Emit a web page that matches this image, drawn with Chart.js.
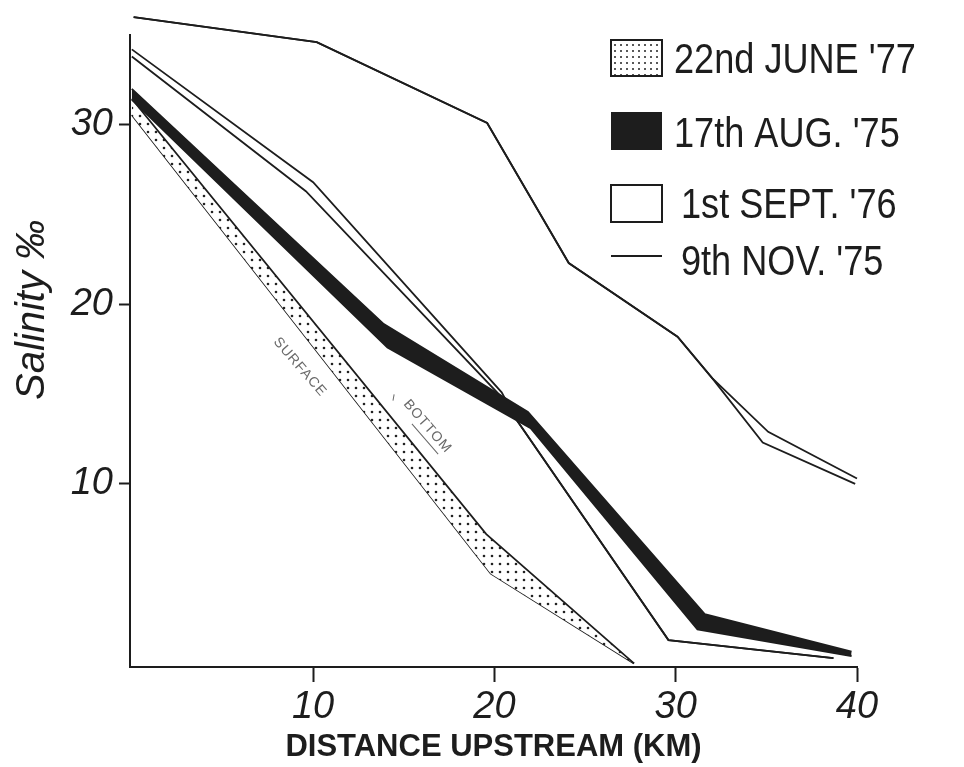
<!DOCTYPE html>
<html>
<head>
<meta charset="utf-8">
<title>Salinity upstream</title>
<script src="https://cdn.jsdelivr.net/npm/chart.js@4.4.1/dist/chart.umd.min.js"></script>
<style>
  html, body { margin: 0; padding: 0; background: #fff; }
  #wrap { width: 964px; height: 767px; }
</style>
</head>
<body>
<div id="wrap"><canvas id="salinity"></canvas></div>
<script>
// Salinity (‰) against distance upstream (km), bottom and surface water per survey
const xTicks = [10, 20, 30, 40];
const yTicks = [10, 20, 30];

const june77Bottom  = [[0, 31.45], [19.55, 7.2], [27.7, 0]];
const june77Surface = [[0, 30.55], [19.8, 5.0], [27.7, 0]];

const aug75Bottom  = [[0, 32.0], [13.9, 18.9], [21.85, 14.0], [31.6, 2.75], [39.7, 0.65]];
const aug75Surface = [[0, 31.4], [14.1, 17.6], [22.0, 13.1], [31.2, 1.9], [39.7, 0.4]];

const sept76Bottom  = [[0, 34.2], [10.0, 26.8], [20.4, 15.1], [21.2, 13.6], [29.6, 1.3], [38.7, 0.3]];
const sept76Surface = [[0, 33.8], [9.6, 26.3], [20.8, 14.4], [21.2, 13.6], [29.6, 1.3], [38.7, 0.3]];

const nov75Bottom  = [[0.1, 36.0], [10.2, 34.6], [19.6, 30.1], [24.1, 22.3], [30.1, 18.2], [32.0, 15.9], [35.1, 12.9], [40.0, 10.3]];
const nov75Surface = [[0.1, 36.0], [10.2, 34.6], [19.6, 30.1], [24.1, 22.3], [30.1, 18.2], [32.0, 15.9], [34.8, 12.3], [39.9, 10.0]];

const legendLabels = ["22nd JUNE '77", "17th AUG. '75", "1st SEPT. '76", "9th NOV. '75"];

const INK = '#1d1d1d';
const pts = arr => arr.map(([x, y]) => ({ x, y }));

// stippled fill for the June band
function dotPattern(size, r) {
  const c = document.createElement('canvas');
  c.width = size; c.height = size;
  const g = c.getContext('2d');
  g.fillStyle = '#fff';
  g.fillRect(0, 0, size, size);
  g.fillStyle = '#222';
  g.beginPath();
  g.arc(size / 2, size / 2, r, 0, Math.PI * 2);
  g.fill();
  return g.createPattern(c, 'repeat');
}
const dots = dotPattern(8, 1.3);
const keyDots = dotPattern(6, 1.0);

function line(data, extra) {
  return Object.assign({
    data: pts(data),
    borderColor: INK,
    borderWidth: 1.8,
    pointRadius: 0,
    tension: 0,
    fill: false,
    clip: false
  }, extra);
}

// legend keys in the upper right
const keyPlugin = {
  id: 'keys',
  afterDraw(chart) {
    const ctx = chart.ctx;
    ctx.save();
    ctx.lineWidth = 2;
    ctx.strokeStyle = INK;

    ctx.fillStyle = keyDots;
    ctx.fillRect(611, 40, 51, 36);
    ctx.strokeRect(611, 40, 51, 36);

    ctx.fillStyle = INK;
    ctx.fillRect(611, 112, 51, 38);

    ctx.strokeRect(611, 185, 51, 37);

    ctx.beginPath();
    ctx.moveTo(611, 256);
    ctx.lineTo(662, 256);
    ctx.stroke();

    ctx.fillStyle = INK;
    ctx.font = '42px "Liberation Sans", Arial, sans-serif';
    ctx.textBaseline = 'alphabetic';
    const rows = [[674, 73], [674, 147], [681, 218], [681, 275]];
    legendLabels.forEach((t, i) => {
      ctx.save();
      ctx.translate(rows[i][0], rows[i][1]);
      ctx.scale(0.86, 1);
      ctx.fillText(t, 0, 0);
      ctx.restore();
    });
    ctx.restore();
  }
};

// y title and the SURFACE / BOTTOM labels along the June band
const notePlugin = {
  id: 'notes',
  afterDraw(chart) {
    const ctx = chart.ctx;
    const xs = chart.scales.x, ys = chart.scales.y;
    ctx.save();

    ctx.fillStyle = INK;
    ctx.font = 'italic 40px "Liberation Sans", Arial, sans-serif';
    ctx.textAlign = 'center';
    ctx.textBaseline = 'middle';
    ctx.translate(33, 310);
    ctx.rotate(-Math.PI / 2);
    ctx.fillText('Salinity ‰', 0, 0);
    ctx.setTransform(1, 0, 0, 1, 0, 0);

    const ang = 49 * Math.PI / 180;
    ctx.font = '14px "Liberation Sans", Arial, sans-serif';
    ctx.letterSpacing = '1px';
    ctx.fillStyle = '#6a6a6a';
    ctx.strokeStyle = '#6a6a6a';
    ctx.lineWidth = 1;

    ctx.translate(xs.getPixelForValue(9.27), ys.getPixelForValue(16.5));
    ctx.rotate(ang);
    ctx.fillText('SURFACE', 0, 0);
    ctx.setTransform(1, 0, 0, 1, 0, 0);

    ctx.translate(xs.getPixelForValue(16.3), ys.getPixelForValue(13.2));
    ctx.rotate(ang);
    ctx.fillText('BOTTOM', 0, 0);
    ctx.beginPath();
    ctx.moveTo(-12, 10);
    ctx.lineTo(28, 10);
    ctx.moveTo(-46, 4);
    ctx.lineTo(-42, 9);
    ctx.stroke();
    ctx.restore();
  }
};

new Chart(document.getElementById('salinity'), {
  type: 'line',
  data: {
    datasets: [
      line(aug75Bottom, { order: 0, fill: '+1', backgroundColor: INK }),
      line(aug75Surface, { order: 0 }),
      line(june77Bottom, { order: 1, fill: '+1', backgroundColor: dots }),
      line(june77Surface, { order: 1 }),
      line(sept76Bottom, { order: 2 }),
      line(sept76Surface, { order: 2 }),
      line(nov75Bottom, { order: 3 }),
      line(nov75Surface, { order: 3 })
    ]
  },
  options: {
    responsive: true,
    maintainAspectRatio: false,
    animation: false,
    events: [],
    layout: { padding: { top: 35, right: 107, left: 0, bottom: 0 } },
    plugins: {
      legend: { display: false },
      tooltip: { enabled: false }
    },
    scales: {
      x: {
        type: 'linear',
        min: -0.1,
        max: 40,
        afterBuildTicks: s => { s.ticks = xTicks.map(v => ({ value: v })); },
        afterFit: s => { s.height = 100; },
        border: { display: true, color: INK, width: 2 },
        grid: { drawOnChartArea: false, drawTicks: true, tickLength: 15, tickColor: INK, tickWidth: 2 },
        ticks: {
          color: INK,
          padding: 3,
          font: { family: '"Liberation Sans", Arial, sans-serif', size: 38, style: 'italic' },
          callback: v => String(v)
        },
        title: {
          display: true,
          text: 'DISTANCE UPSTREAM (KM)',
          color: INK,
          padding: { top: 0, bottom: 1 },
          font: { family: '"Liberation Sans", Arial, sans-serif', size: 31, weight: 'bold' }
        }
      },
      y: {
        type: 'linear',
        min: -0.2,
        max: 35,
        afterBuildTicks: s => { s.ticks = yTicks.map(v => ({ value: v })); },
        afterFit: s => { s.width = 130; },
        border: { display: true, color: INK, width: 2 },
        grid: { drawOnChartArea: false, drawTicks: true, tickLength: 11, tickColor: INK, tickWidth: 2 },
        ticks: {
          color: INK,
          padding: 6,
          font: { family: '"Liberation Sans", Arial, sans-serif', size: 38, style: 'italic' },
          callback: v => String(v)
        }
      }
    }
  },
  plugins: [keyPlugin, notePlugin]
});
</script>
</body>
</html>
